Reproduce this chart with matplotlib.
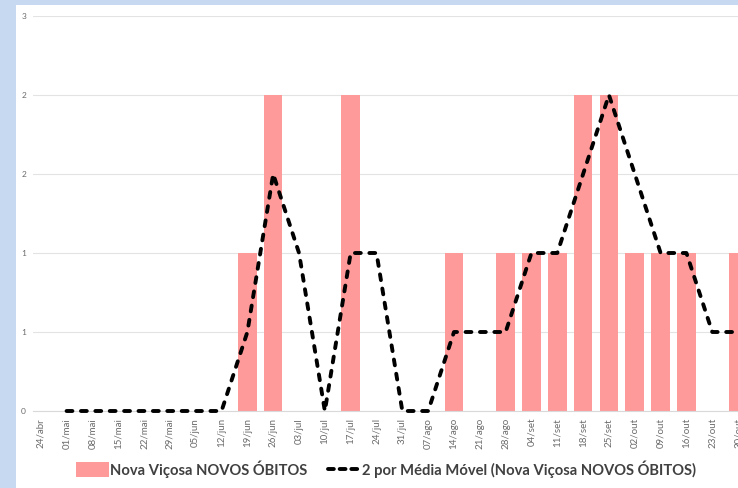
import math
import numpy as np
import matplotlib
matplotlib.use("Agg")
import matplotlib.pyplot as plt
from matplotlib.patches import Rectangle, Patch
from matplotlib.lines import Line2D
from matplotlib.ticker import FixedLocator, FuncFormatter

# Weekly dates (week starting)
semanas = ["24/abr", "01/mai", "08/mai", "15/mai", "22/mai", "29/mai", "05/jun",
           "12/jun", "19/jun", "26/jun", "03/jul", "10/jul", "17/jul", "24/jul",
           "31/jul", "07/ago", "14/ago", "21/ago", "28/ago", "04/set", "11/set",
           "18/set", "25/set", "02/out", "09/out", "16/out", "23/out", "30/out"]

# New deaths per week in Nova Viçosa
novos_obitos = [0, 0, 0, 0, 0, 0, 0,
                0, 1, 2, 0, 0, 2, 0,
                0, 0, 1, 0, 1, 1, 1,
                2, 2, 1, 1, 1, 0, 1]

# 2-period moving average (undefined for the first week)
media_movel = [np.nan, 0, 0, 0, 0, 0, 0,
               0, 0.5, 1.5, 1, 0, 1, 1,
               0, 0, 0.5, 0.5, 0.5, 1, 1,
               1.5, 2, 1.5, 1, 1, 0.5, 0.5]

y_ticks = [0, 0.5, 1, 1.5, 2, 2.5]

W, H = 738, 488
fig = plt.figure(figsize=(W / 100, H / 100), dpi=100)
fig.patch.set_facecolor("#c6d9f0")
# white chart card
fig.add_artist(Rectangle((16 / W, 0), 1 - 16 / W, (H - 5) / H,
                         transform=fig.transFigure, facecolor="white",
                         edgecolor="none", zorder=0))

ax = fig.add_axes([33 / W, 77 / H, (751 - 33) / W, (472 - 77) / H])
ax.set_facecolor("none")

x = np.arange(len(semanas))
bar_color = "#ff9a9a"
ax.bar(x, novos_obitos, width=0.72, color=bar_color, zorder=2)
ax.plot(x, media_movel, color="black", linewidth=2.8, linestyle=(0, (1.5, 2.2)),
        dash_capstyle="round", solid_joinstyle="round", zorder=3, clip_on=False)

ax.set_xlim(-0.3, 27.5)
ax.set_ylim(0, 2.5)
ax.yaxis.set_major_locator(FixedLocator(y_ticks))
ax.yaxis.set_major_formatter(FuncFormatter(lambda v, p: f"{math.floor(v + 0.5)}"))
ax.grid(axis="y", color="#e3e3e3", linewidth=0.8, zorder=0)
ax.set_axisbelow(True)
for s in ["top", "right", "left"]:
    ax.spines[s].set_visible(False)
ax.spines["bottom"].set_color("#d9d9d9")
ax.spines["bottom"].set_linewidth(0.8)

ax.set_xticks(x)
ax.set_xticklabels(semanas, rotation=90, fontsize=7, color="#6a6a6a",
                   family=["Lato", "DejaVu Sans"])
ax.tick_params(axis="x", length=0, pad=5)
ax.tick_params(axis="y", length=0, pad=5, labelsize=6, labelcolor="#6a6a6a")
for t in ax.get_yticklabels():
    t.set_family(["Lato", "DejaVu Sans"])

handles = [Patch(facecolor=bar_color, edgecolor="none"),
           Line2D([0], [0], color="black", linewidth=2.8,
                  linestyle=(0, (1.5, 1.5)), dash_capstyle="round")]
labels = ["Nova Viçosa NOVOS ÓBITOS",
          "2 por Média Móvel (Nova Viçosa NOVOS ÓBITOS)"]
leg = fig.legend(handles, labels, loc="center", bbox_to_anchor=(386 / W, 1 - 469 / H),
                 ncol=2, frameon=False, handlelength=2.2, handleheight=1.15,
                 handletextpad=0.1, columnspacing=1.4,
                 prop={"family": ["Lato", "DejaVu Sans"], "weight": "bold", "size": 10.6})
for t in leg.get_texts():
    t.set_color("#404040")

fig.savefig("out.png", dpi=100, facecolor=fig.get_facecolor())
